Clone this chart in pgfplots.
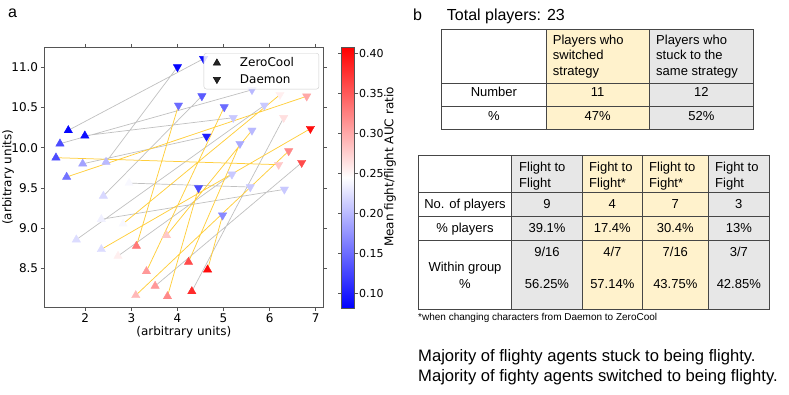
\documentclass[border=0pt]{standalone}
\usepackage{fontspec}
\setmainfont{DejaVu Sans}
\newfontfamily\hv{Liberation Sans}
\usepackage{pgfplots}
\pgfplotsset{compat=1.18}
\definecolor{gline}{RGB}{192,192,192}
\definecolor{yline}{RGB}{255,206,60}
\definecolor{cellY}{RGB}{255,242,204}
\definecolor{cellG}{RGB}{231,231,231}
\definecolor{spine}{RGB}{85,85,85}
\definecolor{tline}{RGB}{70,70,70}

\begin{document}
\begin{tikzpicture}
\useasboundingbox (0pt,0pt) rectangle (789pt,-394pt);
% (a) paired positions, ZeroCool vs Daemon
\begin{axis}[
  at={(44.3pt,-47.3pt)}, anchor=north west,
  scale only axis, width=279pt, height=260pt,
  xmin=1.110, xmax=7.165, ymin=8.015, ymax=11.249,
  xtick={2,3,4,5,6,7}, ytick={8.5,9.0,9.5,10.0,10.5,11.0},
  yticklabel style={/pgf/number format/.cd, fixed, fixed zerofill, precision=1},
  /pgf/number format/assume math mode=true,
  tick align=outside, major tick length=3.5pt,
  tick style={spine, line width=0.8pt},
  axis line style={spine, line width=0.8pt},
  tick label style={font=\fontsize{12}{14}\selectfont, inner sep=2.5pt},
  label style={font=\fontsize{12}{14}\selectfont},
  xlabel={(arbitrary units)}, ylabel={(arbitrary units)},
  xlabel style={at={(axis description cs:0.5,-0.097)}, anchor=center},
  ylabel style={at={(axis description cs:-0.13,0.5)}, anchor=center},
  colormap={bwr}{rgb=(0,0,1) rgb=(1,1,1) rgb=(1,0,0)},
  point meta min=0.0816, point meta max=0.4075,
  colorbar,
  colorbar style={
    at={(parent axis.north east)}, anchor=north west, xshift=9.7pt,
    scale only axis, width=13.3pt, height=260.7pt,
    ytick={0.10,0.15,0.20,0.25,0.30,0.35,0.40},
    yticklabel style={/pgf/number format/.cd, fixed, fixed zerofill, precision=2},
    /pgf/number format/assume math mode=true,
    tick label style={font=\fontsize{11}{13}\selectfont, inner sep=0.5pt},
    axis line style={spine, line width=0.8pt},
    tick style={spine, line width=0.8pt},
    tick align=outside, major tick length=3.5pt,
    yticklabel pos=right,
  },
  unbounded coords=jump,
  legend image code/.code={\path[draw=none, fill=none] (0pt,-4pt) rectangle (26pt,4pt); \draw[#1] plot coordinates {(13pt,0pt)};},
  legend style={at={(0.985,0.978)}, anchor=north east, draw=black!20, rounded corners=2.5pt,
    fill=white, fill opacity=0.85, text opacity=1,
    inner xsep=0pt, inner ysep=3.5pt, row sep=4pt, column sep=9pt,
    nodes={inner sep=1pt, text width=78pt, align=left, font=\fontsize{12}{14}\selectfont}},
  legend cell align=left,
]
% players who stuck to the same strategy
\addplot[forget plot, gline, line width=0.7pt] coordinates {
(1.631,10.216)(4.566,11.107)(nan,nan)
(2.45,9.822)(4.0,11.004)(nan,nan)
(1.99,10.15)(5.21,10.373)(nan,nan)
(1.45,10.05)(5.617,10.72)(nan,nan)
(1.943,9.80)(4.631,10.141)(nan,nan)
(2.392,9.40)(4.53,10.643)(nan,nan)
(2.95,9.56)(5.58,9.511)(nan,nan)
(2.348,9.11)(6.32,9.482)(nan,nan)
(3.515,8.28)(6.696,9.814)(nan,nan)
(4.312,8.213)(6.305,10.373)(nan,nan)
(1.805,8.856)(5.885,10.527)(nan,nan)
(2.71,8.653)(5.182,9.669)
};
% players who switched strategy
\addplot[forget plot, yline, line width=0.75pt] coordinates {
(1.363,9.876)(6.196,9.789)(nan,nan)
(1.595,9.636)(6.805,10.64)(nan,nan)
(2.82,9.055)(6.225,10.66)(nan,nan)
(2.348,8.736)(6.885,10.237)(nan,nan)
(3.109,8.777)(4.022,10.527)(nan,nan)
(3.327,8.462)(5.015,10.506)(nan,nan)
(4.653,8.483)(4.979,9.159)(nan,nan)
(3.095,8.164)(6.414,9.959)(nan,nan)
(3.762,8.91)(5.617,10.216)(nan,nan)
(3.783,8.151)(4.457,9.499)(nan,nan)
(4.24,8.578)(5.356,10.05)
};
% ZeroCool
\addplot[forget plot, scatter, only marks, mark=triangle*, mark size=4.8pt,
  point meta=explicit, scatter/use mapped color={draw=mapped color, fill=mapped color}] coordinates {
(1.631,10.216)[0.085] (1.99,10.15)[0.09] (1.45,10.05)[0.13] (1.363,9.876)[0.13]
(1.943,9.80)[0.185] (2.45,9.822)[0.20] (1.595,9.636)[0.155] (2.95,9.56)[0.24]
(2.392,9.40)[0.22] (2.348,9.11)[0.235] (2.82,9.055)[0.24] (1.805,8.856)[0.222]
(2.348,8.736)[0.222] (2.71,8.653)[0.255] (3.109,8.777)[0.33] (3.762,8.91)[0.28]
(3.327,8.462)[0.31] (3.515,8.28)[0.31] (3.095,8.164)[0.29] (3.783,8.151)[0.32]
(4.24,8.578)[0.36] (4.653,8.483)[0.40] (4.312,8.213)[0.38]
};
% Daemon
\addplot[forget plot, scatter, only marks, mark=triangle*, mark size=4.8pt,
  every mark/.append style={rotate=180},
  point meta=explicit, scatter/use mapped color={draw=mapped color, fill=mapped color}] coordinates {
(4.0,11.004)[0.085] (4.566,11.107)[0.09] (4.53,10.643)[0.14] (5.617,10.72)[0.20]
(6.225,10.66)[0.255] (6.805,10.64)[0.30] (4.022,10.527)[0.15] (5.015,10.506)[0.15]
(5.885,10.527)[0.21] (5.21,10.373)[0.21] (6.305,10.373)[0.265] (6.885,10.237)[0.40]
(5.617,10.216)[0.20] (4.631,10.141)[0.10] (5.356,10.05)[0.19] (6.414,9.959)[0.32]
(6.696,9.814)[0.36] (6.196,9.789)[0.28] (5.182,9.669)[0.21] (4.457,9.499)[0.13]
(5.58,9.511)[0.21] (6.32,9.482)[0.21] (4.979,9.159)[0.17]
};
\addlegendimage{only marks, mark=triangle*, black, mark size=4.2pt}
\addlegendentry{ZeroCool}
\addlegendimage{only marks, mark=triangle*, mark options={rotate=180}, black, mark size=4.2pt}
\addlegendentry{Daemon}
\end{axis}

\begin{scope}[x=1pt, y=-1pt, font=\hv\fontsize{13}{15}\selectfont]
% colorbar label
\node[rotate=90, inner sep=0pt, font=\fontsize{12}{14}\selectfont] at (390,167) {Mean fight/flight AUC ratio};

\node[anchor=base west, inner sep=0pt, font=\hv\fontsize{16}{18}\selectfont] at (8,17.5) {a};
\node[anchor=base west, inner sep=0pt, font=\hv\fontsize{16}{18}\selectfont] at (413,20.7) {b};
\node[anchor=base west, inner sep=0pt, font=\hv\fontsize{16}{18}\selectfont] at (446.7,20.7) {Total players: 23};

% (b) top table
\fill[cellY] (546,29.3) rectangle (649.3,129.3);
\fill[cellG] (649.3,29.3) rectangle (753.3,129.3);
\draw[tline, line width=0.9pt] (441.7,29.3) rectangle (753.3,129.3);
\draw[tline, line width=0.9pt] (546,29.3) -- (546,129.3) (649.3,29.3) -- (649.3,129.3)
  (441.7,83.3) -- (753.3,83.3) (441.7,106) -- (753.3,106);
\begin{scope}[every node/.style={inner sep=0pt}]
\node[anchor=base west] at (552.7,44.3) {Players who};
\node[anchor=base west] at (552.7,59.6) {switched};
\node[anchor=base west] at (552.7,75) {strategy};
\node[anchor=base west] at (656,44.3) {Players who};
\node[anchor=base west] at (656,59.6) {stuck to the};
\node[anchor=base west] at (656,75) {same strategy};
\node[anchor=base] at (493.9,96.7) {Number};
\node[anchor=base] at (597.7,96.7) {11};
\node[anchor=base] at (701.3,96.7) {12};
\node[anchor=base] at (493.9,120.7) {\%};
\node[anchor=base] at (597.7,120.7) {47\%};
\node[anchor=base] at (701.3,120.7) {52\%};
\end{scope}

% (b) bottom table
\fill[cellG] (511.7,155) rectangle (582.3,309.3);
\fill[cellY] (582.3,155) rectangle (708.3,309.3);
\fill[cellG] (708.3,155) rectangle (769.3,309.3);
\draw[tline, line width=0.9pt] (418.3,155) rectangle (769.3,309.3);
\draw[tline, line width=0.9pt] (511.7,155) -- (511.7,309.3) (582.3,155) -- (582.3,309.3)
  (642.3,155) -- (642.3,309.3) (708.3,155) -- (708.3,309.3)
  (418.3,192.3) -- (769.3,192.3) (418.3,216.7) -- (769.3,216.7) (418.3,240.7) -- (769.3,240.7);
\begin{scope}[every node/.style={inner sep=0pt}]
\node[anchor=base west] at (519,171.7) {Flight to};
\node[anchor=base west] at (519,187.3) {Flight};
\node[anchor=base west] at (589,171.7) {Fight to};
\node[anchor=base west] at (589,187.3) {Flight*};
\node[anchor=base west] at (649,171.7) {Flight to};
\node[anchor=base west] at (649,187.3) {Fight*};
\node[anchor=base west] at (715,171.7) {Fight to};
\node[anchor=base west] at (715,187.3) {Fight};
\node[anchor=base] at (465,208.3) {No. of players};
\node[anchor=base] at (547,208.3) {9};
\node[anchor=base] at (612.3,208.3) {4};
\node[anchor=base] at (675.3,208.3) {7};
\node[anchor=base] at (738.8,208.3) {3};
\node[anchor=base] at (465,232.3) {\% players};
\node[anchor=base] at (547,232.3) {39.1\%};
\node[anchor=base] at (612.3,232.3) {17.4\%};
\node[anchor=base] at (675.3,232.3) {30.4\%};
\node[anchor=base] at (738.8,232.3) {13\%};
\node[anchor=base] at (547,256) {9/16};
\node[anchor=base] at (612.3,256) {4/7};
\node[anchor=base] at (675.3,256) {7/16};
\node[anchor=base] at (738.8,256) {3/7};
\node[anchor=base] at (465,271.7) {Within group};
\node[anchor=base] at (465,288.3) {\%};
\node[anchor=base] at (547,288.3) {56.25\%};
\node[anchor=base] at (612.3,288.3) {57.14\%};
\node[anchor=base] at (675.3,288.3) {43.75\%};
\node[anchor=base] at (738.8,288.3) {42.85\%};
\node[anchor=base west, font=\hv\fontsize{10}{12}\selectfont] at (418,320) {*when changing characters from Daemon to ZeroCool};
\node[anchor=base west, font=\hv\fontsize{16.6}{19}\selectfont] at (418,361) {Majority of flighty agents stuck to being flighty.};
\node[anchor=base west, font=\hv\fontsize{16.6}{19}\selectfont] at (418,381) {Majority of fighty agents switched to being flighty.};
\end{scope}
\end{scope}
\end{tikzpicture}
\end{document}
